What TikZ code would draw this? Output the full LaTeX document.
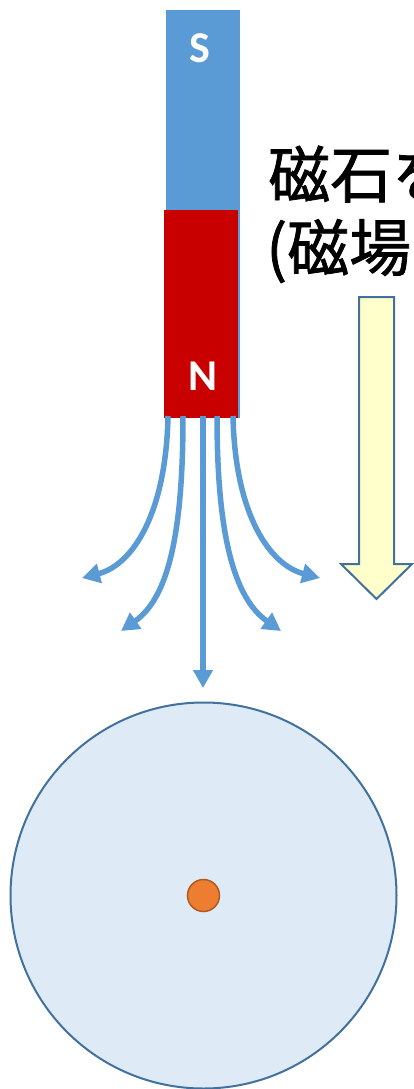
\documentclass[tikz,border=0pt]{standalone}
\usepackage{fontspec}
\setmainfont{Carlito}
\newfontfamily\jpfont[FakeBold=1.2]{Noto Sans CJK JP}
\usetikzlibrary{arrows.meta}
\definecolor{fieldblue}{HTML}{5B9BD5}
\definecolor{polered}{HTML}{C80000}
\definecolor{edgeblue}{HTML}{41719C}
\definecolor{paleyellow}{HTML}{FFFFCC}
\definecolor{paleblue}{HTML}{DEEBF7}
\definecolor{dotorange}{HTML}{ED7D31}
\definecolor{dotedge}{HTML}{AE5A21}
\tikzset{
  pole/.style={draw=none, inner sep=0pt, outer sep=0pt},
  polelabel/.style={text=white, font=\fontsize{44}{44}\selectfont\bfseries, inner sep=0pt},
  fieldline/.style={draw=fieldblue, line width=5.5pt, -{Triangle[length=18pt,width=19pt]}},
  jplabel/.style={font=\jpfont\fontsize{62}{62}\selectfont, anchor=west, inner sep=0pt},
}
\begin{document}
\begin{tikzpicture}[x=1pt,y=-1pt]
  \useasboundingbox (0,0) rectangle (414,1089);
  \clip (0,0) rectangle (414,1089);

  % bar magnet: south half in blue, north half in red
  \node[pole, fill=fieldblue, minimum width=74pt, minimum height=408pt] (south) at (203,214) {};
  \node[pole, fill=polered, minimum width=74pt, minimum height=208pt] (north) at (201,314) {};
  \node[polelabel] (slabel) at (199.5,48.5) {S};
  \node[polelabel] (nlabel) at (203,376) {N};

  % field lines leaving the north pole
  \coordinate (f1s) at (168,416);
  \coordinate (f2s) at (183,416);
  \coordinate (f3s) at (203,416);
  \coordinate (f4s) at (217,416);
  \coordinate (f5s) at (233,416);
  \coordinate (f1e) at (82,578);
  \coordinate (f2e) at (121,631);
  \coordinate (f3e) at (203,688);
  \coordinate (f4e) at (281,631);
  \coordinate (f5e) at (320,578);
  \draw[fieldline] (f1s) .. controls (166,515) and (132,565) .. (f1e);
  \draw[fieldline] (f2s) .. controls (183,535) and (168,598) .. (f2e);
  \draw[fieldline] (f3s) -- (f3e);
  \draw[fieldline] (f4s) .. controls (217,535) and (234,598) .. (f4e);
  \draw[fieldline] (f5s) .. controls (235,515) and (270,565) .. (f5e);

  % caption, running off the right edge
  \node[jplabel] (line1) at (268,174) {磁石を近づける};
  \node[jplabel] (line2) at (266,251) {(磁場をかける)};

  % wide block arrow pointing down
  \draw[edgeblue, line width=2pt, fill=paleyellow, line join=miter]
    (359,297) -- (394,297) -- (394,564) -- (412,564) -- (376.5,599)
    -- (341,564) -- (359,564) -- cycle;

  % disc with a small dot at its centre
  \node[circle, draw=edgeblue, line width=2pt, fill=paleblue, minimum size=386pt, inner sep=0pt] (disc) at (203.5,895.5) {};
  \node[circle, draw=dotedge, line width=1.5pt, fill=dotorange, minimum size=32pt, inner sep=0pt] (dot) at (disc.center) {};
\end{tikzpicture}
\end{document}
